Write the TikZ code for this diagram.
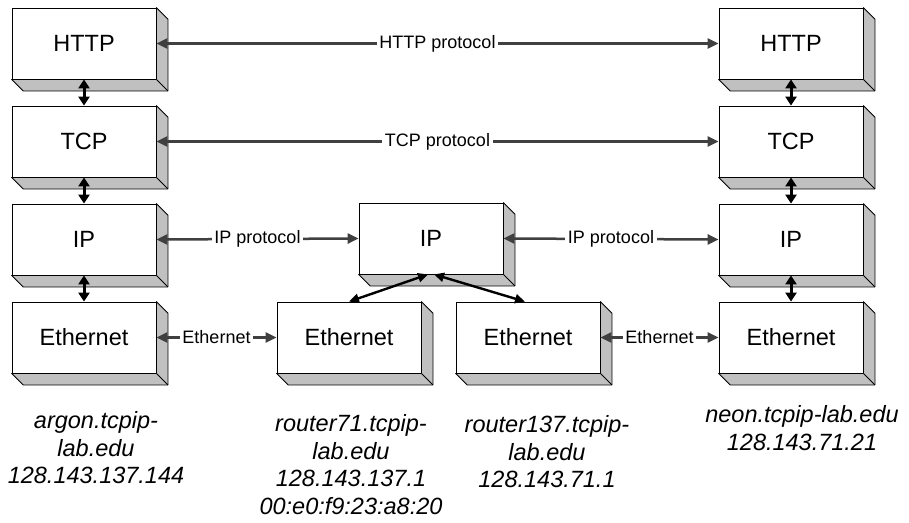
\documentclass[tikz,border=0pt]{standalone}
\usepackage{fontspec}
\setmainfont{Liberation Sans}
\usetikzlibrary{arrows.meta}
\definecolor{bevelgray}{HTML}{C0C0C0}
\definecolor{linkgray}{HTML}{404040}
\tikzset{
  layer/.style={draw=black, line width=0.8pt, fill=white, minimum width=144pt,
    minimum height=71pt, inner sep=0pt, font=\fontsize{23.5}{28}\selectfont},
  bevel/.style={fill=bevelgray, draw=black, line width=0.8pt, line join=round},
  peer/.style={linkgray, line width=2.5pt,
    {Triangle[length=11pt,width=10pt]}-{Triangle[length=11pt,width=10pt]}},
  peerlabel/.style={fill=white, inner sep=2.5pt, text=black,
    font=\fontsize{18}{20}\selectfont},
  stack/.style={black, line width=3pt,
    {Triangle[length=9pt,width=11pt]}-{Triangle[length=9pt,width=11pt]}},
  fanout/.style={black, line width=2.4pt,
    {Triangle[length=10pt,width=9pt]}-{Triangle[length=10pt,width=9pt]}},
  hostname/.style={align=center, anchor=north, inner sep=0pt,
    font=\itshape\fontsize{23.5}{27.8}\selectfont},
}
\begin{document}
\begin{tikzpicture}[x=1pt, y=-1pt]
\useasboundingbox (0,0) rectangle (909,522);
% argon
\node[layer] (httpL) at (84,43.5) {HTTP};
\node[layer] (tcpL) at (84,141.5) {TCP};
\node[layer] (ipL) at (84,239.5) {IP};
\node[layer] (ethL) at (84,337.5) {Ethernet};
% routers
\node[layer] (ipM) at (431,238.5) {IP};
\node[layer] (ethM1) at (349,337.5) {Ethernet};
\node[layer] (ethM2) at (528,337.5) {Ethernet};
% neon
\node[layer] (httpR) at (791,43.5) {HTTP};
\node[layer] (tcpR) at (791,141.5) {TCP};
\node[layer] (ipR) at (791,239.5) {IP};
\node[layer] (ethR) at (791,337.5) {Ethernet};
% depth of the boxes
\foreach \b in {httpL,tcpL,ipL,ethL,ipM,ethM1,ethM2,httpR,tcpR,ipR,ethR} {
  \filldraw[bevel] (\b.north east) -- ++(11.5,11.5)
    -- ([shift={(11.5,11.5)}]\b.south east)
    -- ([shift={(11.5,11.5)}]\b.south west) -- (\b.south west)
    -- (\b.south east) -- cycle;
  \draw[bevel] (\b.south east) -- ++(11.5,11.5);
}
% peer protocols
\draw[peer] (httpL.east) -- node[peerlabel] {HTTP protocol} (httpR.west);
\draw[peer] (tcpL.east) -- node[peerlabel] {TCP protocol} (tcpR.west);
\draw[peer] (ipL.east) -- node[peerlabel] {IP protocol} (ipM.west);
\draw[peer] (ipM.east) -- node[peerlabel] {IP protocol} (ipR.west);
\draw[peer] (ethL.east) -- node[peerlabel] {Ethernet} (ethM1.west);
\draw[peer] (ethM2.east) -- node[peerlabel] {Ethernet} (ethR.west);
% up and down the stacks
\draw[stack] (httpL.south) -- (tcpL.north);
\draw[stack] (tcpL.south) -- (ipL.north);
\draw[stack] (ipL.south) -- (ethL.north);
\draw[stack] (httpR.south) -- (tcpR.north);
\draw[stack] (tcpR.south) -- (ipR.north);
\draw[stack] (ipR.south) -- (ethR.north);
\draw[fanout] ([xshift=-3pt]ipM.south) -- (ethM1.north);
\draw[fanout] ([xshift=3pt]ipM.south) -- ([xshift=-3pt]ethM2.north);
% host names
\node[hostname] (argon) at (96,411) {argon.tcpip-\\lab.edu\\128.143.137.144};
\node[hostname] (router71) at (351,414) {router71.tcpip-\\lab.edu\\128.143.137.1\\00:e0:f9:23:a8:20};
\node[hostname] (router137) at (547,415) {router137.tcpip-\\lab.edu\\128.143.71.1};
\node[hostname] (neon) at (802,405) {neon.tcpip-lab.edu\\128.143.71.21};
\end{tikzpicture}
\end{document}
